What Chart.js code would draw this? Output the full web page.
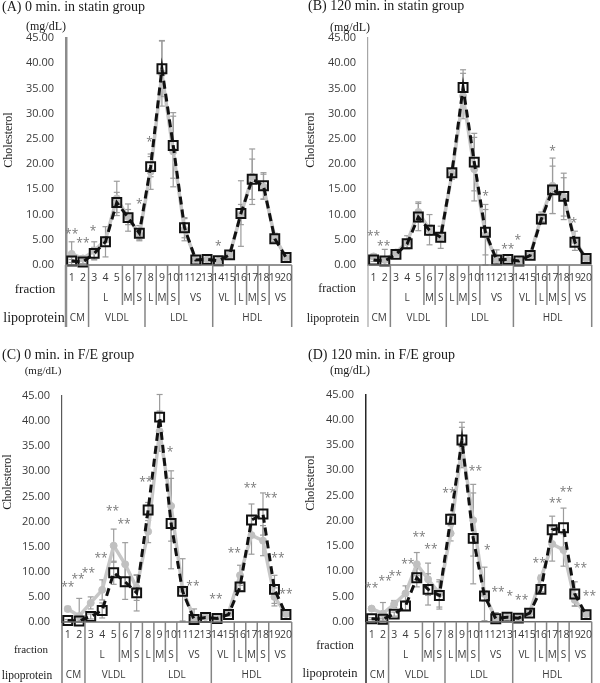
<!DOCTYPE html>
<html>
<head>
<meta charset="utf-8">
<script src="https://cdn.jsdelivr.net/npm/chart.js@4.4.0/dist/chart.umd.min.js"></script>
<style>
  body { margin: 0; background: #fff; }
  #wrap { position: relative; width: 600px; height: 683px; overflow: hidden; background: #fff; }
  canvas { position: absolute; }
  .t { position: absolute; font-family: "Liberation Serif", "Times New Roman", serif; color: #1a1a1a; white-space: nowrap; line-height: 1; }
  .ttl { transform: translate(0, -50%); font-size: 14px; }
  .c { transform: translate(-50%, -50%); }
  .r { transform: translate(-50%, -50%) rotate(-90deg); font-size: 12px; }
</style>
</head>
<body>
<div id="wrap">
  <canvas id="cA" width="300" height="340" style="left:0;top:0"></canvas>
  <canvas id="cB" width="300" height="340" style="left:300px;top:0"></canvas>
  <canvas id="cC" width="300" height="343" style="left:0;top:340px"></canvas>
  <canvas id="cD" width="300" height="343" style="left:300px;top:340px"></canvas>

  <div class="t ttl" style="left:2px;top:7px">(A) 0 min. in statin group</div>
  <div class="t ttl" style="left:308px;top:6px">(B) 120 min. in statin group</div>
  <div class="t ttl" style="left:2px;top:355px">(C) 0 min. in F/E group</div>
  <div class="t ttl" style="left:308px;top:355px">(D) 120 min. in F/E group</div>

  <div class="t c" style="left:46px;top:26px;font-size:12px">(mg/dL)</div>
  <div class="t c" style="left:350px;top:27px;font-size:12px">(mg/dL)</div>
  <div class="t c" style="left:43px;top:370px;font-size:11px">(mg/dL)</div>
  <div class="t c" style="left:350px;top:370px;font-size:12px">(mg/dL)</div>

  <div class="t r" style="left:8px;top:140px">Cholesterol</div>
  <div class="t r" style="left:310px;top:140px">Cholesterol</div>
  <div class="t r" style="left:7px;top:482px">Cholesterol</div>
  <div class="t r" style="left:310px;top:483px">Cholesterol</div>

  <div class="t c" style="left:35px;top:288px;font-size:13px">fraction</div>
  <div class="t c" style="left:337px;top:288px;font-size:12px">fraction</div>
  <div class="t c" style="left:31px;top:649px;font-size:11px">fraction</div>
  <div class="t c" style="left:335px;top:645px;font-size:12px">fraction</div>

  <div class="t c" style="left:34px;top:318px;font-size:14px">lipoprotein</div>
  <div class="t c" style="left:333px;top:318px;font-size:12px">lipoprotein</div>
  <div class="t c" style="left:27px;top:676px;font-size:11.5px">lipoprotein</div>
  <div class="t c" style="left:330px;top:673px;font-size:12.5px">lipoprotein</div>
</div>
<script>
const fractions = ['1','2','3','4','5','6','7','8','9','10','11','12','13','14','15','16','17','18','19','20'];

const subLabels = ['L','M','S','L','M','S','VS','VL','L','M','S','VS'];
const subFirst  = [3, 6, 7, 8, 9, 10, 11, 14, 16, 17, 18, 19];
const subLast   = [5, 6, 7, 8, 9, 10, 13, 15, 16, 17, 18, 20];
const lipoLabels = ['CM','VLDL','LDL','HDL'];
const lipoFirst  = [1, 3, 8, 14];
const lipoLast   = [2, 7, 13, 20];

// (A) 0 min, statin
const grayA     = [2.2, 1.3, 2.8, 5.0, 13.2, 9.5, 6.0, 18.5, 38.0, 22.5, 7.0, 1.0, 1.1, 0.8, 2.0, 10.0, 17.5, 15.5, 5.5, 1.5];
const blackA    = [0.8, 0.6, 2.3, 4.6, 12.4, 9.4, 6.3, 19.5, 38.9, 23.7, 7.4, 1.0, 1.1, 0.85, 2.0, 10.2, 17.0, 15.7, 5.2, 1.5];
const grayErrA  = [2.4, 0.5, 1.8, 0.5, 3.4, 1.5, 1.0, 3.5, 6.5, 7.0, 2.2, 0.2, 0.2, 0.2, 0.4, 2.0, 5.5, 2.5, 0.8, 0.3];
const blackErrA = [0.3, 0.3, 1.2, 3.0, 2.0, 2.7, 1.5, 2.0, 5.5, 6.5, 2.0, 0.2, 0.2, 0.2, 0.3, 6.5, 4.0, 2.6, 0.6, 0.2];
const starPosA  = [0, 1.0, 1.9, 6, 6.9, 13];
const starValA  = [6.7, 4.8, 7.3, 12.6, 24.9, 4.3];
const starTxtA  = ['**','**','*','*','*','*'];

// (B) 120 min, statin
const grayB     = [1.7, 1.0, 2.5, 4.5, 10.5, 7.0, 5.5, 18.0, 33.5, 19.0, 6.0, 1.0, 1.0, 0.8, 2.0, 9.5, 15.7, 13.5, 4.8, 1.3];
const blackB    = [1.0, 0.8, 2.1, 4.2, 9.5, 6.9, 5.5, 18.3, 35.2, 20.4, 6.5, 1.0, 1.1, 0.8, 1.9, 9.1, 14.9, 13.6, 4.5, 1.3];
const grayErrB  = [0.5, 2.1, 0.4, 1.3, 2.0, 3.0, 2.2, 1.0, 4.5, 6.3, 6.0, 2.0, 0.2, 0.2, 0.3, 1.0, 5.5, 3.8, 1.9, 0.2];
const blackErrB = [0.3, 0.3, 0.3, 0.8, 2.7, 1.0, 0.8, 0.6, 3.5, 5.7, 4.5, 0.3, 0.2, 0.2, 0.2, 0.5, 4.7, 4.6, 0.8, 0.2];
const starPosB  = [0, 0.9, 10, 12, 12.9, 16, 17.9];
const starValB  = [6.2, 4.3, 14.2, 3.6, 5.5, 23.1, 8.8];
const starTxtB  = ['**','**','*','**','*','*','*'];

// (C) 0 min, F/E
const grayC     = [2.6, 1.2, 3.8, 6.4, 15.2, 11.5, 6.8, 18.0, 38.0, 23.1, 6.4, 0.8, 1.0, 0.8, 1.8, 9.3, 17.3, 16.2, 5.0, 1.6];
const blackC    = [0.3, 0.2, 1.1, 2.3, 9.8, 8.0, 5.8, 22.3, 40.8, 19.6, 6.1, 0.5, 0.9, 0.7, 1.5, 7.0, 20.3, 21.5, 6.5, 1.5];
const grayErrC  = [0.5, 3.5, 1.2, 2.0, 3.3, 4.3, 2.5, 2.2, 4.0, 7.0, 6.2, 1.8, 0.2, 0.2, 0.3, 2.0, 3.8, 3.0, 1.8, 0.3];
const blackErrC = [0.2, 0.2, 0.5, 1.5, 2.3, 3.5, 3.6, 1.5, 4.5, 9.0, 1.0, 0.3, 0.2, 0.2, 0.3, 0.8, 3.2, 4.2, 2.8, 0.3];
const starPosC  = [0, 0.9, 1.8, 2.9, 3.9, 4.9, 6.8, 8.9, 10.9, 12.9, 14.5, 15.9, 17.7, 18.3, 19.0];
const starValC  = [7.4, 9.0, 10.2, 13.2, 22.6, 20.1, 28.4, 34.3, 7.6, 5.0, 14.2, 27.1, 25.2, 13.3, 6.0];
const starTxtC  = ['**','**','**','**','**','**','**','*','**','**','**','**','**','**','**'];

// (D) 120 min, F/E
const grayD     = [2.6, 1.6, 3.5, 5.6, 11.4, 8.4, 5.6, 17.5, 35.0, 20.1, 5.5, 0.5, 0.9, 0.8, 1.8, 8.6, 15.4, 14.2, 4.3, 1.5];
const blackD    = [0.6, 0.5, 1.5, 3.1, 8.7, 6.4, 5.2, 20.3, 36.0, 16.5, 5.1, 0.6, 0.9, 0.7, 1.7, 6.4, 18.2, 18.6, 5.5, 1.4];
const grayErrD  = [0.4, 2.2, 0.7, 1.5, 2.3, 3.2, 2.7, 1.5, 4.5, 7.1, 5.3, 1.3, 0.2, 0.2, 0.3, 0.6, 3.4, 3.2, 1.2, 0.3];
const blackErrD = [0.2, 0.2, 0.4, 0.8, 1.8, 3.1, 2.7, 1.0, 2.5, 9.0, 1.0, 0.3, 0.2, 0.2, 0.2, 0.5, 2.7, 3.9, 2.4, 0.3];
const starPosD  = [0, 1.2, 2.1, 3.2, 4.2, 5.25, 6.85, 9.2, 10.25, 11.2, 12.25, 13.3, 14.85, 16.3, 17.25, 18.5, 19.3];
const starValD  = [7.1, 8.5, 9.6, 12.0, 17.2, 14.9, 25.9, 30.4, 14.7, 6.4, 5.6, 4.7, 12.2, 24.1, 26.2, 11.2, 5.6];
const starTxtD  = ['**','**','**','**','**','**','**','**','*','**','*','**','**','**','**','**','**'];

const sansFont = '"Open Sans", "DejaVu Sans", sans-serif';

function seg(ctx, x1, y1, x2, y2) {
  ctx.beginPath(); ctx.moveTo(x1, y1); ctx.lineTo(x2, y2); ctx.stroke();
}

// error bars, baseline, fraction/lipoprotein table and asterisks
const extras = {
  id: 'extras',
  beforeDatasetsDraw(chart) {
    const ctx = chart.ctx, xs = chart.scales.x, ys = chart.scales.y;
    ctx.save();
    ctx.strokeStyle = '#9c9c9c';
    ctx.lineWidth = 1.2;
    chart.data.datasets.forEach(ds => {
      ds.data.forEach((v, i) => {
        const e = ds.errors[i];
        const px = xs.getPixelForValue(i);
        const top = ys.getPixelForValue(v + e);
        const bot = ys.getPixelForValue(Math.max(v - e, 0));
        seg(ctx, px, top, px, bot);
        seg(ctx, px - 3, top, px + 3, top);
        seg(ctx, px - 3, bot, px + 3, bot);
      });
    });
    ctx.restore();
  },
  afterDraw(chart, args, o) {
    const ctx = chart.ctx, xs = chart.scales.x, ys = chart.scales.y;
    const a = chart.chartArea, base = a.bottom;
    ctx.save();
    // baseline
    ctx.strokeStyle = '#6f6f6f'; ctx.lineWidth = 1.5;
    seg(ctx, a.left, base, a.right, base);
    // axis continues through the table
    ctx.strokeStyle = o.axisColor; ctx.lineWidth = o.axisWidth;
    seg(ctx, a.left, base, a.left, base + 62);
    // table dividers
    ctx.strokeStyle = '#858585'; ctx.lineWidth = 1.5;
    lipoLast.forEach(n => {
      const px = xs.getPixelForValue(n - 0.5);
      seg(ctx, px, base, px, base + 62);
    });
    subLast.forEach(n => {
      if (lipoLast.includes(n)) return;
      const px = xs.getPixelForValue(n - 0.5);
      seg(ctx, px, base, px, base + 40);
    });
    // table text
    ctx.fillStyle = '#3a3a3a';
    ctx.textAlign = 'center';
    ctx.textBaseline = 'middle';
    ctx.font = '10.5px ' + sansFont;
    fractions.forEach((f, i) => ctx.fillText(f, xs.getPixelForValue(i), base + 13.5));
    ctx.font = '10px ' + sansFont;
    subLabels.forEach((s, k) => {
      ctx.fillText(s, xs.getPixelForValue((subFirst[k] + subLast[k]) / 2 - 1), base + 33.5);
    });
    lipoLabels.forEach((s, k) => {
      ctx.fillText(s, xs.getPixelForValue((lipoFirst[k] + lipoLast[k]) / 2 - 1), base + 53);
    });
    // significance marks
    ctx.fillStyle = '#7a7a7a';
    ctx.font = '12px ' + sansFont;
    ctx.textBaseline = 'alphabetic';
    o.starPos.forEach((p, k) => {
      ctx.fillText(o.starTxt[k], xs.getPixelForValue(p), ys.getPixelForValue(o.starVal[k]) + 6.5);
    });
    ctx.restore();
  }
};

function makePanel(id, gray, black, grayErr, blackErr, starPos, starVal, starTxt, lay) {
  new Chart(document.getElementById(id), {
    type: 'line',
    data: {
      labels: fractions,
      datasets: [
        {
          data: gray, errors: grayErr, order: 2, clip: false,
          borderColor: '#c7c7c7', borderWidth: 3.5, tension: 0,
          pointStyle: 'circle', pointRadius: 3.5,
          pointBackgroundColor: '#c0c0c0', pointBorderColor: '#c0c0c0', pointBorderWidth: 1
        },
        {
          data: black, errors: blackErr, order: 1, clip: false,
          borderColor: '#111', borderWidth: 3, borderDash: [8, 5], tension: 0,
          pointStyle: 'rect', pointRadius: 6.3,
          pointBackgroundColor: 'rgba(0,0,0,0)', pointBorderColor: '#111', pointBorderWidth: 2
        }
      ]
    },
    plugins: [extras],
    options: {
      responsive: false,
      animation: false,
      events: [],
      layout: { padding: { left: 0, top: lay.top, right: lay.right, bottom: lay.bottom } },
      scales: {
        x: { type: 'category', offset: true, display: false },
        y: {
          min: 0, max: 45,
          grid: { display: false, drawTicks: false },
          border: { display: true, color: lay.axisColor, width: lay.axisWidth },
          ticks: {
            stepSize: 5, padding: 12, color: '#3a3a3a',
            font: { family: sansFont, size: 11 },
            callback: v => v.toFixed(2)
          },
          afterFit: s => { s.width = lay.left; }
        }
      },
      plugins: {
        legend: { display: false },
        tooltip: { enabled: false },
        extras: { starPos, starVal, starTxt, axisColor: lay.axisColor, axisWidth: lay.axisWidth }
      }
    }
  });
}

makePanel('cA', grayA, blackA, grayErrA, blackErrA, starPosA, starValA, starTxtA,
  { left: 66, top: 38, right: 8, bottom: 75, axisColor: '#8c8c8c', axisWidth: 2.5 });
makePanel('cB', grayB, blackB, grayErrB, blackErrB, starPosB, starValB, starTxtB,
  { left: 68, top: 38, right: 2, bottom: 75, axisColor: '#a6a6a6', axisWidth: 1.2 });
makePanel('cC', grayC, blackC, grayErrC, blackErrC, starPosC, starValC, starTxtC,
  { left: 62, top: 56, right: 7, bottom: 61, axisColor: '#595959', axisWidth: 1.2 });
makePanel('cD', grayD, blackD, grayErrD, blackErrD, starPosD, starValD, starTxtD,
  { left: 66, top: 54.5, right: 5, bottom: 61.3, axisColor: '#262626', axisWidth: 1.5 });
</script>
</body>
</html>
